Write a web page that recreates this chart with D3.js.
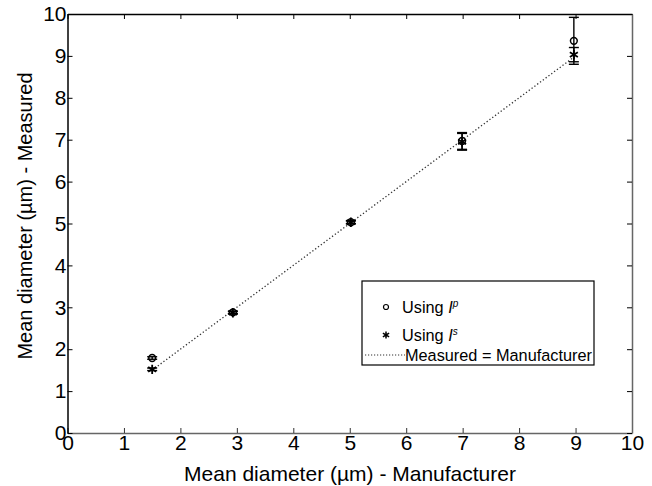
<!DOCTYPE html>
<html>
<head>
<meta charset="utf-8">
<script src="https://cdn.jsdelivr.net/npm/d3@7"></script>
<style>
  body { margin: 0; background: #fff; }
  text { font-family: "Liberation Sans", Arial, sans-serif; fill: #000; }
</style>
</head>
<body>
<svg id="chart" width="652" height="486"></svg>
<script>
// values
const manufacturer = [1.5, 2.93, 5.02, 6.99, 8.97];
const measuredP = [1.79, 2.88, 5.03, 6.97, 9.36];
const errP = [0.03, 0.03, 0.03, 0.2, 0.56];
const measuredS = [1.52, 2.87, 5.03, 6.95, 9.03];
const errS = [0.03, 0.03, 0.04, 0.2, 0.17];
const ticks = [0, 1, 2, 3, 4, 5, 6, 7, 8, 9, 10];
const identityLine = [1.5, 9];

const svg = d3.select("#chart");

const x = d3.scaleLinear().domain([0, 10]).range([67.5, 632]);
const y = d3.scaleLinear().domain([0, 10]).range([433, 14]);

// frame with inward ticks (left/top dark, bottom/right gray like the original)
const xAxisB = svg.append("g").attr("transform", `translate(0,${y(0)})`)
  .call(d3.axisBottom(x).tickValues(ticks).tickSizeInner(-5).tickSizeOuter(0).tickPadding(2));
const xAxisT = svg.append("g").attr("transform", `translate(0,${y(10)})`)
  .call(d3.axisTop(x).tickValues(ticks).tickSizeInner(-5).tickSizeOuter(0).tickFormat(""));
const yAxisL = svg.append("g").attr("transform", `translate(${x(0)},0)`)
  .call(d3.axisLeft(y).tickValues(ticks).tickSizeInner(-5).tickSizeOuter(0).tickPadding(1));
const yAxisR = svg.append("g").attr("transform", `translate(${x(10)},0)`)
  .call(d3.axisRight(y).tickValues(ticks).tickSizeInner(-5).tickSizeOuter(0).tickFormat(""));

xAxisB.select(".domain").attr("stroke", "#666").attr("stroke-width", 1.5);
xAxisB.selectAll(".tick line").attr("stroke", "#333");
yAxisR.select(".domain").attr("stroke", "#666").attr("stroke-width", 1.5);
xAxisT.select(".domain").attr("stroke", "#000").attr("stroke-width", 1.5);
yAxisL.select(".domain").attr("stroke", "#000").attr("stroke-width", 1.5);

svg.selectAll(".tick text").style("font-size", "21px")
  .style("font-family", "'Liberation Sans', Arial, sans-serif").attr("fill", "#000");
xAxisB.selectAll(".tick text").attr("dy", "0.71em");

// axis labels
svg.append("text").attr("x", 350).attr("y", 481).attr("text-anchor", "middle")
  .style("font-size", "21px").text("Mean diameter (µm) - Manufacturer");
svg.append("text").attr("transform", "translate(32,216) rotate(-90)")
  .attr("text-anchor", "middle").style("font-size", "20px")
  .text("Mean diameter (µm) - Measured");

// Measured = Manufacturer line
svg.append("line")
  .attr("x1", x(identityLine[0])).attr("y1", y(identityLine[0]))
  .attr("x2", x(identityLine[1])).attr("y2", y(identityLine[1]))
  .attr("stroke", "#333").attr("stroke-width", 1.3).attr("stroke-dasharray", "1.3,2.2");

// error bars
function errorBars(vals, errs) {
  const g = svg.append("g").attr("stroke", "#000").attr("stroke-width", 1.4);
  manufacturer.forEach((m, i) => {
    const lo = y(vals[i] - errs[i]), hi = y(vals[i] + errs[i]), cx = x(m);
    g.append("line").attr("x1", cx).attr("x2", cx).attr("y1", lo).attr("y2", hi);
    g.append("line").attr("x1", cx - 5).attr("x2", cx + 5).attr("y1", lo).attr("y2", lo);
    g.append("line").attr("x1", cx - 5).attr("x2", cx + 5).attr("y1", hi).attr("y2", hi);
  });
}
errorBars(measuredP, errP);
errorBars(measuredS, errS);

const circlePath = d3.symbol().type(d3.symbolCircle).size(36);
const starPath = d3.symbol().type(d3.symbolAsterisk).size(60);

svg.append("g").selectAll("path").data(manufacturer).join("path")
  .attr("d", circlePath)
  .attr("transform", (d, i) => `translate(${x(d)},${y(measuredP[i])})`)
  .attr("fill", "none").attr("stroke", "#000").attr("stroke-width", 1.5);

svg.append("g").selectAll("path").data(manufacturer).join("path")
  .attr("d", starPath)
  .attr("transform", (d, i) => `translate(${x(d)},${y(measuredS[i])})`)
  .attr("fill", "none").attr("stroke", "#000").attr("stroke-width", 1.8);

// legend
const lg = svg.append("g").attr("transform", "translate(362,281)");
lg.append("rect").attr("width", 232).attr("height", 84)
  .attr("fill", "#fff").attr("stroke", "#000").attr("stroke-width", 1.2);

lg.append("path").attr("d", d3.symbol().type(d3.symbolCircle).size(20)())
  .attr("transform", "translate(24,26)").attr("fill", "none").attr("stroke", "#000").attr("stroke-width", 1.2);
const t1 = lg.append("text").attr("x", 40).attr("y", 32).style("font-size", "16.3px");
t1.append("tspan").text("Using ");
t1.append("tspan").style("font-style", "italic").text("I");
t1.append("tspan").style("font-style", "italic").style("font-size", "10px").attr("dy", -6).text("p");

lg.append("path").attr("d", d3.symbol().type(d3.symbolAsterisk).size(36)())
  .attr("transform", "translate(24,54)").attr("fill", "none").attr("stroke", "#000").attr("stroke-width", 1.5);
const t2 = lg.append("text").attr("x", 40).attr("y", 60).style("font-size", "16.3px");
t2.append("tspan").text("Using ");
t2.append("tspan").style("font-style", "italic").text("I");
t2.append("tspan").style("font-style", "italic").style("font-size", "10px").attr("dy", -6).text("s");

lg.append("line").attr("x1", 3).attr("x2", 43).attr("y1", 74).attr("y2", 74)
  .attr("stroke", "#333").attr("stroke-width", 1.2).attr("stroke-dasharray", "1.2,1.8");
lg.append("text").attr("x", 43).attr("y", 80).style("font-size", "16.3px")
  .text("Measured = Manufacturer");
</script>
</body>
</html>
